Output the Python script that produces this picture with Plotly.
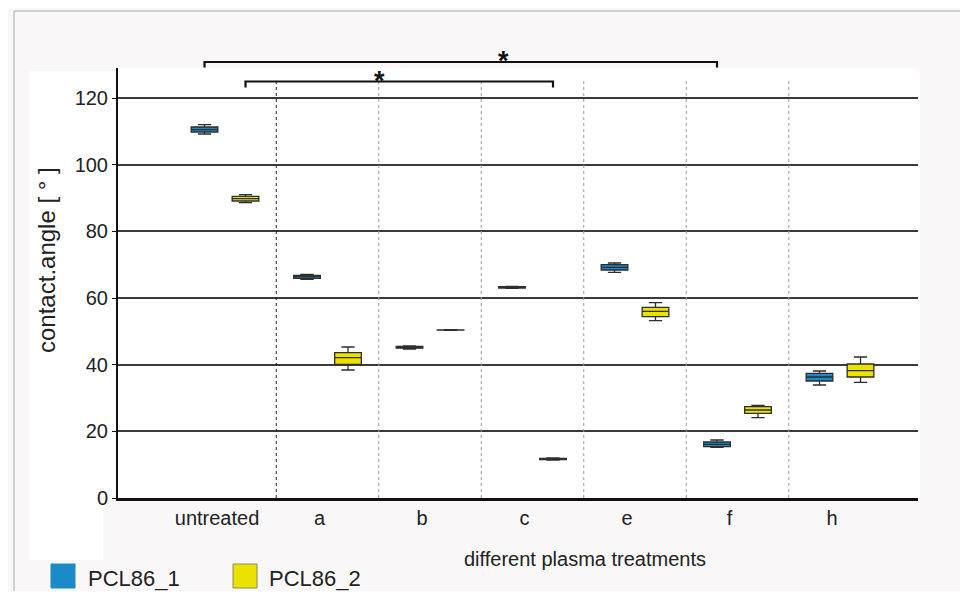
import plotly.graph_objects as go

# ---------------- data ----------------
categories = ["untreated", "a", "b", "c", "e", "f", "h"]

pcl1_lowerfence = [109.2, 65.6, 44.7, 62.9, 67.7, 15.2, 33.9]
pcl1_q1         = [109.8, 65.9, 44.95, 63.0, 68.4, 15.4, 35.1]
pcl1_median     = [110.5, 66.4, 45.2, 63.2, 69.2, 16.1, 36.3]
pcl1_q3         = [111.3, 66.8, 45.45, 63.4, 70.0, 16.8, 37.4]
pcl1_upperfence = [112.0, 67.1, 45.6, 63.5, 70.5, 17.4, 38.1]

pcl2_lowerfence = [88.6, 38.4, 50.3, 11.4, 53.2, 24.1, 34.7]
pcl2_q1         = [89.1, 40.1, 50.35, 11.55, 54.4, 25.4, 36.3]
pcl2_median     = [89.8, 42.1, 50.4, 11.7, 56.0, 26.4, 38.2]
pcl2_q3         = [90.5, 43.6, 50.45, 11.85, 57.2, 27.4, 40.2]
pcl2_upperfence = [91.0, 45.3, 50.5, 12.0, 58.6, 27.8, 42.3]

series_names = ["PCL86_1", "PCL86_2"]
y_ticks = [0, 20, 40, 60, 80, 100, 120]

# significance comparisons: (category from, category to, series)
comparisons = [("untreated", "f", "PCL86_1"), ("untreated", "c", "PCL86_2")]

# ---------------- style ----------------
BLUE = "#1b8bc8"
YELLOW = "#ece200"
FONT = "Liberation Sans, Arial, sans-serif"
TXT = "#222222"

fig = go.Figure()
stats = [
    (pcl1_lowerfence, pcl1_q1, pcl1_median, pcl1_q3, pcl1_upperfence, BLUE),
    (pcl2_lowerfence, pcl2_q1, pcl2_median, pcl2_q3, pcl2_upperfence, YELLOW),
]
for name, (lf, q1, med, q3, uf, col) in zip(series_names, stats):
    fig.add_trace(go.Box(
        x=categories, lowerfence=lf, q1=q1, median=med, q3=q3, upperfence=uf,
        name=name, fillcolor=col, line=dict(color="#2e2e2e", width=1.3),
        whiskerwidth=0.5, showlegend=False, boxpoints=False,
    ))

# page offset (browser body margin) and figure size
OFF = 8
FW, FH = 952, 583
# plot area geometry in reference-image pixels
RL, RR, RT, RB = 118, 918, 68, 498
L, R, T, B = RL - OFF, RR - OFF, RT - OFF, RB - OFF
W, H = R - L, B - T
def px(x):  # reference pixel -> paper x
    return (x - OFF - L) / W
def py(y):  # reference pixel -> paper y
    return (B - (y - OFF)) / H

shapes = []
# background panels
shapes.append(dict(type="rect", xref="paper", yref="paper", x0=px(30), x1=px(920),
                   y0=py(500), y1=py(71), fillcolor="white", line_width=0, layer="below"))
shapes.append(dict(type="rect", xref="paper", yref="paper", x0=px(30), x1=px(103),
                   y0=py(560), y1=py(500), fillcolor="white", line_width=0, layer="below"))
# frame lines
shapes.append(dict(type="line", xref="paper", yref="paper", x0=px(14), x1=px(968),
                   y0=py(11), y1=py(11), line=dict(color="#a8a8a8", width=1)))
shapes.append(dict(type="line", xref="paper", yref="paper", x0=px(14), x1=px(14),
                   y0=py(11), y1=py(599), line=dict(color="#a8a8a8", width=1)))

# category separators
for i in range(len(categories) - 1):
    shapes.append(dict(type="line", xref="x", yref="paper", x0=i + 0.5, x1=i + 0.5,
                       y0=0, y1=py(81),
                       line=dict(color="#222222" if i == 0 else "#9a9a9a", width=1, dash="dot")))

# significance brackets
offset = {"PCL86_1": -0.2, "PCL86_2": 0.2}
levels = [(py(62), py(67.5)), (py(81.5), py(87.5))]
star_pos = [(503, 61), (379, 81)]
annotations = []
for (c0, c1, s), (yl, yt), (sx, sy) in zip(comparisons, levels, star_pos):
    xa = categories.index(c0) + offset[s]
    xb = categories.index(c1) + offset[s]
    shapes.append(dict(type="path", xref="x", yref="paper",
                       path=f"M {xa},{yt} L {xa},{yl} L {xb},{yl} L {xb},{yt}",
                       line=dict(color="#111111", width=2.2)))
    annotations.append(dict(x=px(sx), y=py(sy), xref="paper", yref="paper", text="<b>*</b>",
                            showarrow=False, xanchor="center", yanchor="middle",
                            font=dict(size=27, color="#111111", family=FONT)))

# custom legend
for name, col, x0, xt in zip(series_names, [BLUE, YELLOW], [51, 233], [86, 267]):
    shapes.append(dict(type="rect", xref="paper", yref="paper", x0=px(x0), x1=px(x0 + 24),
                       y0=py(588), y1=py(564), fillcolor=col,
                       line=dict(color="#8a8a60" if col == YELLOW else col, width=1)))
    annotations.append(dict(x=px(xt), y=py(578), xref="paper", yref="paper", text=name,
                            showarrow=False, xanchor="left", yanchor="middle",
                            font=dict(size=22, color=TXT, family=FONT)))

# axis titles
annotations.append(dict(x=px(46), y=py(260), xref="paper", yref="paper",
                        text="contact.angle [ ° ]", textangle=-90, showarrow=False,
                        xanchor="center", yanchor="middle",
                        font=dict(size=24, color=TXT, family=FONT)))
annotations.append(dict(x=px(585), y=py(559), xref="paper", yref="paper",
                        text="different plasma treatments", showarrow=False,
                        xanchor="center", yanchor="middle",
                        font=dict(size=20, color=TXT, family=FONT)))

fig.update_layout(
    width=FW, height=FH,
    margin=dict(l=L, r=FW - R, t=T, b=FH - B),
    paper_bgcolor="#f9f7f8", plot_bgcolor="white",
    boxmode="group", boxgap=0.2, boxgroupgap=0.35,
    font=dict(family=FONT, color=TXT),
    shapes=shapes, annotations=annotations,
    showlegend=False,
)
fig.update_xaxes(
    type="category", categoryorder="array", categoryarray=categories,
    range=[-1.044, 6.761], showgrid=False, zeroline=False,
    showline=True, linecolor="#111111", linewidth=3,
    tickfont=dict(size=20, color=TXT, family=FONT), ticks="",
    ticklabelshift=-8,
)
fig.update_yaxes(
    range=[0, 129], tickvals=y_ticks, showgrid=True, gridcolor="#3a3a3a", gridwidth=1.5,
    zeroline=False, showline=True, linecolor="#111111", linewidth=2,
    ticks="outside", ticklen=4, tickcolor="#111111",
    tickfont=dict(size=20, color=TXT, family=FONT),
)

fig.write_html("out.html")
